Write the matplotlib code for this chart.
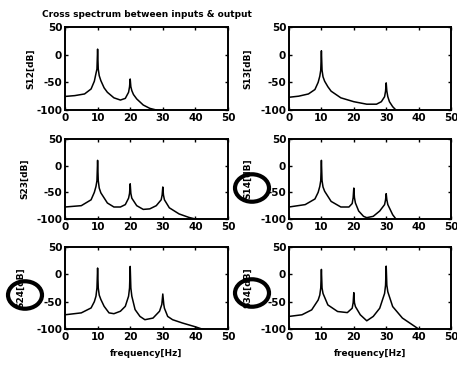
import matplotlib
matplotlib.use("Agg")
import matplotlib.pyplot as plt
from matplotlib.patches import Circle

plt.rcParams["axes.unicode_minus"] = False

title = "Cross spectrum between inputs & output"
ylabels = ["S12[dB]", "S13[dB]", "S23[dB]", "S14[dB]", "S24[dB]", "S34[dB]"]
xlabel = "frequency[Hz]"
xticks = [0, 10, 20, 30, 40, 50]
yticks = [50, 0, -50, -100]

f1 = [0, 3, 6, 8, 9, 9.5, 9.8, 10, 10.2, 10.5, 11, 12, 13, 15, 17, 18.5, 19.5, 19.8, 20, 20.2, 20.5, 21, 22, 24, 26, 28, 30]
s1 = [-75.5, -74, -71, -62, -48, -34, -26, 10, -26, -38, -47, -60, -68, -78, -82, -79, -68, -58, -44, -58, -65, -72, -80, -91, -97, -100, -104]

f2 = [0, 3, 6, 8, 9, 9.5, 9.8, 10, 10.2, 10.5, 11, 12, 13, 16, 20, 24, 27, 28.5, 29.5, 29.8, 30, 30.2, 30.5, 31, 32, 33, 35]
s2 = [-77, -75, -71, -63, -50, -39, -28, 7, -28, -40, -48, -58, -66, -78, -85, -89.5, -89.5, -85, -76, -66, -51, -66, -76, -85, -94, -100, -106]

f3 = [0, 5, 8, 9, 9.5, 9.8, 10, 10.2, 10.5, 11, 13, 15, 17, 18.5, 19.5, 19.8, 20, 20.2, 20.5, 22, 24, 26, 28, 29.5, 29.8, 30, 30.2, 30.5, 32, 35, 38, 40, 42]
s3 = [-77.5, -75, -64, -50, -39, -28, 10, -28, -42, -51, -70, -77.5, -77.5, -73, -61, -52, -34, -52, -61, -75, -82, -81, -75, -64, -55, -40, -55, -64, -79, -90.5, -97, -100, -103]

f4 = [0, 5, 8, 9, 9.5, 9.8, 10, 10.2, 10.5, 11, 13, 16, 18.5, 19.5, 19.8, 20, 20.2, 20.5, 21.5, 23, 24, 26, 28, 29.5, 29.8, 30, 30.2, 30.5, 32, 33, 35]
s4 = [-77.5, -73, -62.5, -50, -39, -28, 10, -28, -40, -48, -67, -77.5, -77.5, -71, -60, -42, -60, -70, -85, -95, -97.5, -95, -85, -73, -64, -52.5, -64, -73, -92, -100, -106]

f5 = [0, 5, 8, 9, 9.5, 9.8, 10, 10.2, 10.5, 11, 12, 13.5, 15, 17, 18.5, 19.5, 19.8, 20, 20.2, 20.5, 21.5, 23, 24.5, 27, 29, 29.7, 30, 30.3, 30.5, 31.5, 33, 36, 40, 42, 44]
s5 = [-74, -70.5, -61.5, -50, -40, -25, 11.5, -25, -38, -46, -58.5, -70.5, -72, -67.5, -58.5, -40, -25, 14.5, -25, -40, -64.5, -77, -83, -80, -67.5, -55, -36, -55, -62, -77, -83, -89, -96, -100, -103]

f6 = [0, 4, 7, 9, 9.5, 9.8, 10, 10.2, 10.5, 12, 15, 18, 19.5, 19.8, 20, 20.2, 20.5, 22, 24, 26, 28, 29.5, 29.8, 30, 30.2, 30.5, 32, 35, 38, 40, 42]
s6 = [-77, -74, -65, -47, -38, -25, 9, -25, -35, -56, -68, -70, -62, -52, -33.5, -52, -59, -74, -85, -77, -62, -35, -20, 15, -20, -32, -59, -80, -92, -100, -104]

freqs = [f1, f2, f3, f4, f5, f6]
specs = [s1, s2, s3, s4, s5, s6]

fig = plt.figure(figsize=(4.57, 3.69), dpi=100)
W, H = 457, 369
cols = [(65, 228), (289, 451)]
rows = [(27, 110), (139, 219), (247, 329)]
label_x = [-0.18, -0.23, -0.22, -0.23, -0.245, -0.23]

for k in range(6):
    r, c = divmod(k, 2)
    x0, x1 = cols[c]
    t, b = rows[r]
    ax = fig.add_axes([x0 / W, 1 - b / H, (x1 - x0) / W, (b - t) / H])
    ax.plot(freqs[k], specs[k], color="black", lw=1.1)
    ax.set_xlim(0, 50)
    ax.set_ylim(-100, 50)
    ax.set_xticks(xticks)
    ax.set_yticks(yticks)
    ax.tick_params(direction="in", top=True, right=True, length=2.5, width=1,
                   labelsize=7.5, pad=2)
    for lab in ax.get_xticklabels() + ax.get_yticklabels():
        lab.set_fontweight("bold")
    for sp in ax.spines.values():
        sp.set_linewidth(1.4)
    ax.set_ylabel(ylabels[k], fontsize=6.5, fontweight="bold")
    ax.yaxis.set_label_coords(label_x[k], 0.5)
    if r == 0 and c == 0:
        ax.set_title(title, fontsize=6.5, fontweight="bold", pad=7)
    if r == 2:
        ax.set_xlabel(xlabel, fontsize=6.5, fontweight="bold", labelpad=5)

# hand-drawn circle marks on the scanned page
for cx, cy in [(252, 188), (25, 295), (252, 293)]:
    fig.patches.append(Circle((cx / W, 1 - cy / H), 17 / W, transform=fig.transFigure,
                              fill=False, edgecolor="black", lw=3))

fig.savefig("out.png", dpi=100)
